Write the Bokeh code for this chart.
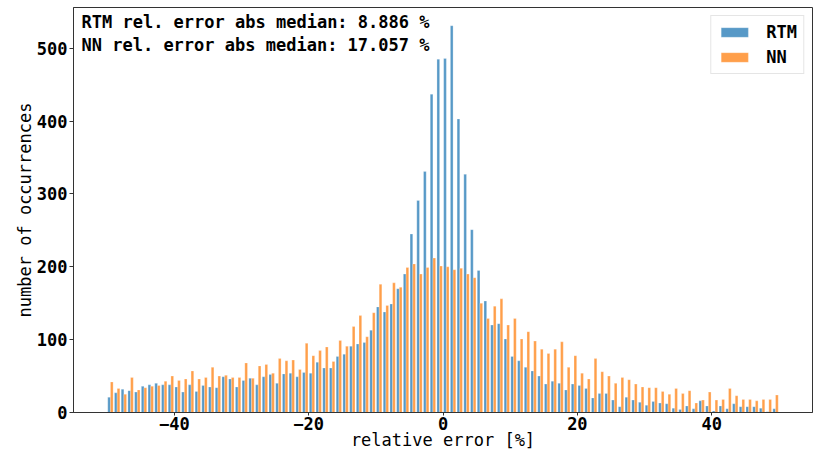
import numpy as np
from bokeh.plotting import figure
from bokeh.models import Range1d, FixedTicker, Label, Legend, LegendItem, ColumnDataSource
from bokeh.embed import file_html
from bokeh.resources import INLINE

# ---------------- data ----------------
bin_left = list(range(-50, 50))  # 1 %-wide bins from -50 to 50

rtm_counts = [
    21, 27, 32, 30, 28, 36, 38, 40, 38, 38,      # -50 .. -41
    35, 28, 38, 29, 37, 35, 34, 49, 46, 35,      # -40 .. -31
    44, 47, 38, 49, 52, 40, 53, 54, 49, 55,      # -30 .. -21
    54, 69, 61, 61, 77, 80, 91, 94, 96, 113,     # -20 .. -11
    145, 138, 149, 170, 190, 245, 291, 331, 437, 485,  # -10 .. -1
    486, 531, 403, 327, 251, 195, 153, 120, 122, 101,  # 0 .. 9
    77, 71, 62, 57, 50, 39, 43, 40, 31, 39,      # 10 .. 19
    37, 33, 20, 26, 26, 17, 8, 21, 17, 14,       # 20 .. 29
    10, 15, 13, 12, 6, 4, 9, 5, 16, 9,           # 30 .. 39
    2, 9, 5, 12, 8, 8, 8, 6, 1, 5,               # 40 .. 49
]

nn_counts = [
    42, 33, 25, 48, 31, 34, 36, 37, 43, 50,      # -50 .. -41
    44, 46, 57, 46, 48, 62, 50, 51, 48, 48,      # -40 .. -31
    68, 47, 64, 66, 54, 74, 71, 72, 59, 95,      # -30 .. -21
    78, 85, 90, 70, 99, 91, 118, 133, 104, 137,  # -20 .. -11
    176, 147, 178, 172, 199, 204, 190, 199, 212, 201,  # -10 .. -1
    200, 196, 198, 190, 185, 150, 129, 146, 156, 120,  # 0 .. 9
    129, 101, 111, 98, 87, 81, 87, 97, 62, 78,   # 10 .. 19
    54, 46, 74, 56, 50, 40, 48, 45, 39, 35,      # 20 .. 29
    34, 34, 29, 25, 33, 26, 30, 13, 17, 28,      # 30 .. 39
    17, 18, 33, 23, 18, 18, 16, 18, 18, 24,      # 40 .. 49
]

series_names = ["RTM", "NN"]
x_ticks = [-40, -20, 0, 20, 40]
x_tick_labels = ["\u221240", "\u221220", "0", "20", "40"]
y_ticks = [0, 100, 200, 300, 400, 500]
title_lines = ["RTM rel. error abs median: 8.886 %",
               "NN rel. error abs median: 17.057 %"]
x_label = "relative error [%]"
y_label = "number of occurrences"

# ---------------- figure ----------------
FONT = "DejaVu Sans Mono"

edges = np.array(bin_left, dtype=float)
src = ColumnDataSource(dict(x_rtm=edges + 0.3, x_nn=edges + 0.7,
                            rtm=rtm_counts, nn=nn_counts))

p = figure(width=820, height=453,
           x_range=Range1d(-55, 55), y_range=Range1d(0, 556),
           output_backend="svg", toolbar_location=None,
           min_border_left=73, min_border_right=8,
           min_border_top=7, min_border_bottom=41)

r1 = p.vbar(x="x_rtm", top="rtm", width=0.4, source=src,
            fill_color="#1f77b4", fill_alpha=0.75,
            line_color="white", line_alpha=0.5, line_width=0.5)
r2 = p.vbar(x="x_nn", top="nn", width=0.4, source=src,
            fill_color="#ff7f0e", fill_alpha=0.75,
            line_color="white", line_alpha=0.5, line_width=0.5)

p.xgrid.grid_line_color = None
p.ygrid.grid_line_color = None
p.outline_line_color = "#333333"
p.outline_line_width = 1

for ax in (p.xaxis[0], p.yaxis[0]):
    ax.axis_line_color = "#333333"
    ax.major_tick_line_color = "#333333"
    ax.major_tick_in = 0
    ax.minor_tick_line_color = None
    ax.major_label_text_font = FONT
    ax.major_label_text_font_style = "bold"
    ax.major_label_text_font_size = "17px"
    ax.major_label_text_color = "black"
    ax.axis_label_text_font = FONT
    ax.axis_label_text_font_style = "normal"
    ax.axis_label_text_font_size = "17px"
    ax.axis_label_text_color = "black"

p.xaxis.ticker = FixedTicker(ticks=x_ticks)
p.xaxis.major_label_overrides = {t: l for t, l in zip(x_ticks, x_tick_labels)}
p.xaxis.major_tick_out = 3
p.xaxis.major_label_standoff = 1
p.xaxis.axis_label = x_label
p.xaxis.axis_label_standoff = -3

p.yaxis.ticker = FixedTicker(ticks=y_ticks)
p.yaxis.major_tick_out = 4
p.yaxis.major_label_standoff = 2
p.yaxis.axis_label = y_label
p.yaxis.axis_label_standoff = -1

# annotation text (top-left)
for i, line in enumerate(title_lines):
    p.add_layout(Label(x=p.x_range.start, y=p.y_range.end,
                       x_offset=8, y_offset=-14 - 23 * i, text=line,
                       text_align="left", text_baseline="alphabetic",
                       text_font=FONT, text_font_style="bold",
                       text_font_size="17px", text_color="black"))

legend = Legend(items=[LegendItem(label=series_names[0], renderers=[r1]),
                       LegendItem(label=series_names[1], renderers=[r2])],
                location="top_right",
                label_text_font=FONT, label_text_font_style="bold",
                label_text_font_size="17px", label_text_color="black",
                glyph_width=34, glyph_height=12, label_standoff=15,
                label_height=20, padding=6, spacing=5, margin=8,
                border_line_color="#cccccc", border_line_width=1,
                background_fill_color="white", background_fill_alpha=0.8)
p.add_layout(legend)

open("out.html", "w").write(file_html(p, INLINE))
